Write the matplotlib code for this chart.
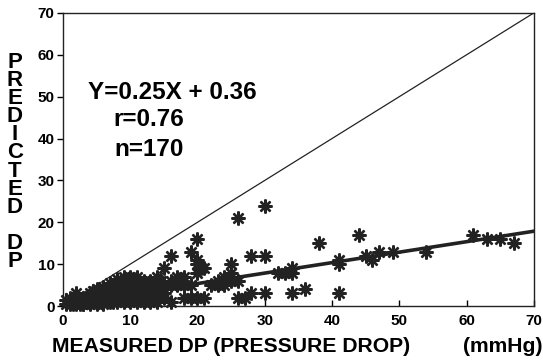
import matplotlib.pyplot as plt

plt.rcParams['font.family'] = ['Liberation Sans', 'DejaVu Sans']
plt.rcParams['font.weight'] = 'bold'

# measured vs predicted pressure drop (mmHg)
measured = [0.5, 1, 1, 1.5, 2, 2, 2.5, 3, 3, 3, 3.5, 4, 4, 4, 4, 4.5, 5, 5, 5, 5,
            5, 5.5, 6, 6, 6, 6, 6.5, 7, 7, 7, 7, 7.5, 8, 8, 8, 8, 8.5, 9, 9, 9,
            9, 9, 9.5, 10, 10, 10, 10, 10, 10, 10.5, 11, 11, 11, 11, 11, 11.5, 12, 12, 12, 12,
            12, 12.5, 13, 13, 13, 13, 13.5, 14, 14, 14, 14, 14, 14.5, 15, 15, 15, 15, 15, 16, 16,
            16, 16, 17, 17, 17, 18, 18, 18, 19, 19, 19, 20, 20, 20, 20, 20, 20.5, 21, 21, 22,
            23, 23, 24, 24, 24, 25, 25, 25, 26, 26, 26, 27, 28, 28, 30, 30, 30, 32, 33, 34,
            34, 34, 36, 38, 41, 41, 41, 44, 45, 46, 47, 49, 54, 61, 63, 65, 67,
            1.5, 2, 2.5, 3, 3.5, 4, 4.5, 5.5, 6.5, 7.5, 8, 9, 10, 11, 12, 13, 14, 6, 7, 8,
            2, 3, 4, 5, 6, 0.5, 1, 11, 12, 13]
predicted = [0.5, 2, 1, 0.5, 1, 2, 0.5, 1, 2, 0.5, 1.5, 2, 3, 1, 0.5, 2.5, 3, 4, 1, 2,
             0.5, 3.5, 2, 3, 1, 0.5, 2, 3, 1, 2, 4, 1, 2, 5, 3, 1, 4, 6, 7, 3,
             2, 1, 5, 7, 4, 2, 3, 1, 6, 5, 6, 3, 2, 1, 4, 5, 5, 6, 3, 2,
             1, 4, 5, 3, 2, 1, 4, 7, 5, 4, 3, 1, 6, 9, 5, 4, 3, 2, 12, 6,
             5, 1, 7, 6, 5, 7, 2, 5, 13, 2, 5, 16, 11, 10, 8, 2, 9, 9, 2, 5,
             6, 5, 7, 5, 6, 10, 6, 8, 21, 6, 2, 2, 12, 3, 24, 12, 3, 8, 8, 8,
             9, 3, 4, 15, 11, 10, 3, 17, 12, 11, 13, 13, 13, 17, 16, 16, 15,
             1.5, 0.5, 1.5, 0.5, 2.5, 1.5, 3.5, 1.5, 3, 2.5, 4, 4, 5, 5, 4, 4, 6, 4.5, 5.5, 6.5,
             3, 1.5, 2.5, 1.5, 1.5, 1.5, 0.5, 7, 1.5, 6]

slope = 0.25
intercept = 0.36
x_ticks = [0, 10, 20, 30, 40, 50, 60, 70]
y_ticks = [0, 10, 20, 30, 40, 50, 60, 70]

fig = plt.figure(figsize=(5.43, 3.6), dpi=100)
ax = fig.add_axes([0.116, 0.15, 0.867, 0.814])

ax.plot([0, 70], [0, 70], color='#222222', lw=0.9)
ax.plot([0, 70], [intercept, slope * 70 + intercept], color='#222222', lw=2.6)
ax.plot(measured, predicted, ls='none', marker=(8, 2, 0), ms=10, mew=1.7,
        color='#222222', clip_on=False)

ax.set_xlim(0, 70)
ax.set_ylim(0, 70)
ax.set_xticks(x_ticks)
ax.set_yticks(y_ticks)
ax.tick_params(axis='x', direction='in', length=4, width=1, pad=6, labelsize=11)
ax.tick_params(axis='y', direction='out', length=4, width=1, pad=2, labelsize=11)
for s in ax.spines.values():
    s.set_linewidth(1)
    s.set_color('#222222')

ax.text(16.2, 51, 'Y=0.25X + 0.36', ha='center', va='center', fontsize=17.5)
ax.text(12.8, 44.6, 'r=0.76', ha='center', va='center', fontsize=17.5)
ax.text(12.8, 37.5, 'n=170', ha='center', va='center', fontsize=17.5)

# stacked y label, one letter per line
ylabel = '\n'.join(list('PREDICTED') + [' ', 'D', 'P'])
fig.text(15 / 543, 1 - 162 / 360, ylabel, ha='center', va='center',
         ma='center', fontsize=16, linespacing=0.82)

fig.text(52 / 543, 1 - 347 / 360, 'MEASURED DP (PRESSURE DROP)', ha='left', va='center', fontsize=15.2)
fig.text(542 / 543, 1 - 347 / 360, '(mmHg)', ha='right', va='center', fontsize=15.2)

fig.savefig('out.png', dpi=100)
